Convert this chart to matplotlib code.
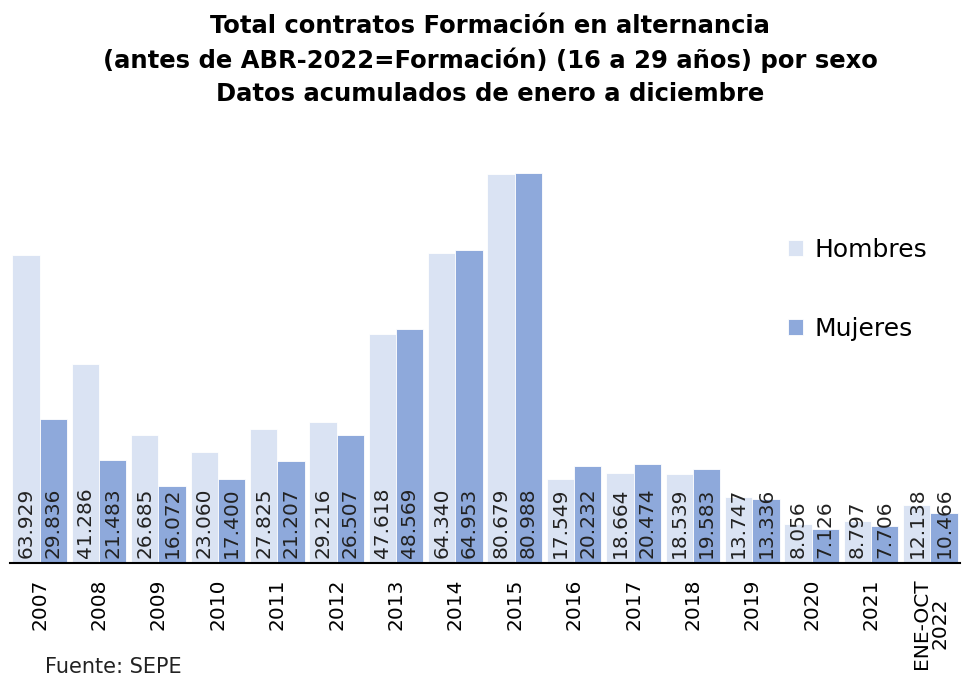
import matplotlib.pyplot as plt
import numpy as np

years = ["2007", "2008", "2009", "2010", "2011", "2012", "2013", "2014",
         "2015", "2016", "2017", "2018", "2019", "2020", "2021", "ENE-OCT\n2022"]
hombres = [63929, 41286, 26685, 23060, 27825, 29216, 47618, 64340,
           80679, 17549, 18664, 18539, 13747, 8056, 8797, 12138]
mujeres = [29836, 21483, 16072, 17400, 21207, 26507, 48569, 64953,
           80988, 20232, 20474, 19583, 13336, 7126, 7706, 10466]

c_h = "#DAE3F3"
c_m = "#8EA9DB"
plt.rcParams["font.family"] = ["DejaVu Sans"]


def fmt(v):
    return f"{v:,}".replace(",", ".")


fig = plt.figure(figsize=(9.65, 6.8), dpi=100)
ax = fig.add_axes([0.0104, 0.172, 0.9846, 0.6233])

x = np.arange(len(years))
w = 0.46
ax.bar(x - w / 2, hombres, w, color=c_h, edgecolor="white", linewidth=0.6, label="Hombres")
ax.bar(x + w / 2, mujeres, w, color=c_m, edgecolor="white", linewidth=0.6, label="Mujeres")

for i in range(len(years)):
    ax.text(x[i] - w / 2, 1100, fmt(hombres[i]), rotation=90, ha="center", va="bottom",
            fontsize=14.5, color="#222222")
    ax.text(x[i] + w / 2, 1100, fmt(mujeres[i]), rotation=90, ha="center", va="bottom",
            fontsize=14.5, color="#222222")

ax.set_xlim(-0.5, len(years) - 0.5)
ax.set_ylim(0, 88000)
ax.set_yticks([])
ax.set_xticks(x)
ax.set_xticklabels(years, rotation=90, fontsize=14.5, va="top", ha="center",
                   linespacing=0.95)
ax.tick_params(axis="x", length=0, pad=11)
for s in ["top", "right", "left"]:
    ax.spines[s].set_visible(False)
ax.spines["bottom"].set_color("black")
ax.spines["bottom"].set_linewidth(1.5)

ax.legend(loc="upper left", bbox_to_anchor=(0.795, 0.82), frameon=False, fontsize=18,
          handlelength=0.6, handleheight=0.6, handletextpad=0.45, labelspacing=2.2)

fig.text(0.508, 0.979, "Total contratos Formación en alternancia\n"
         "(antes de ABR-2022=Formación) (16 a 29 años) por sexo\n"
         "Datos acumulados de enero a diciembre",
         ha="center", va="top", fontsize=17.5, fontweight="bold", linespacing=1.45)
fig.text(0.047, 0.01, "Fuente: SEPE", fontsize=15, color="#222222")

fig.savefig("out.png", dpi=100)
